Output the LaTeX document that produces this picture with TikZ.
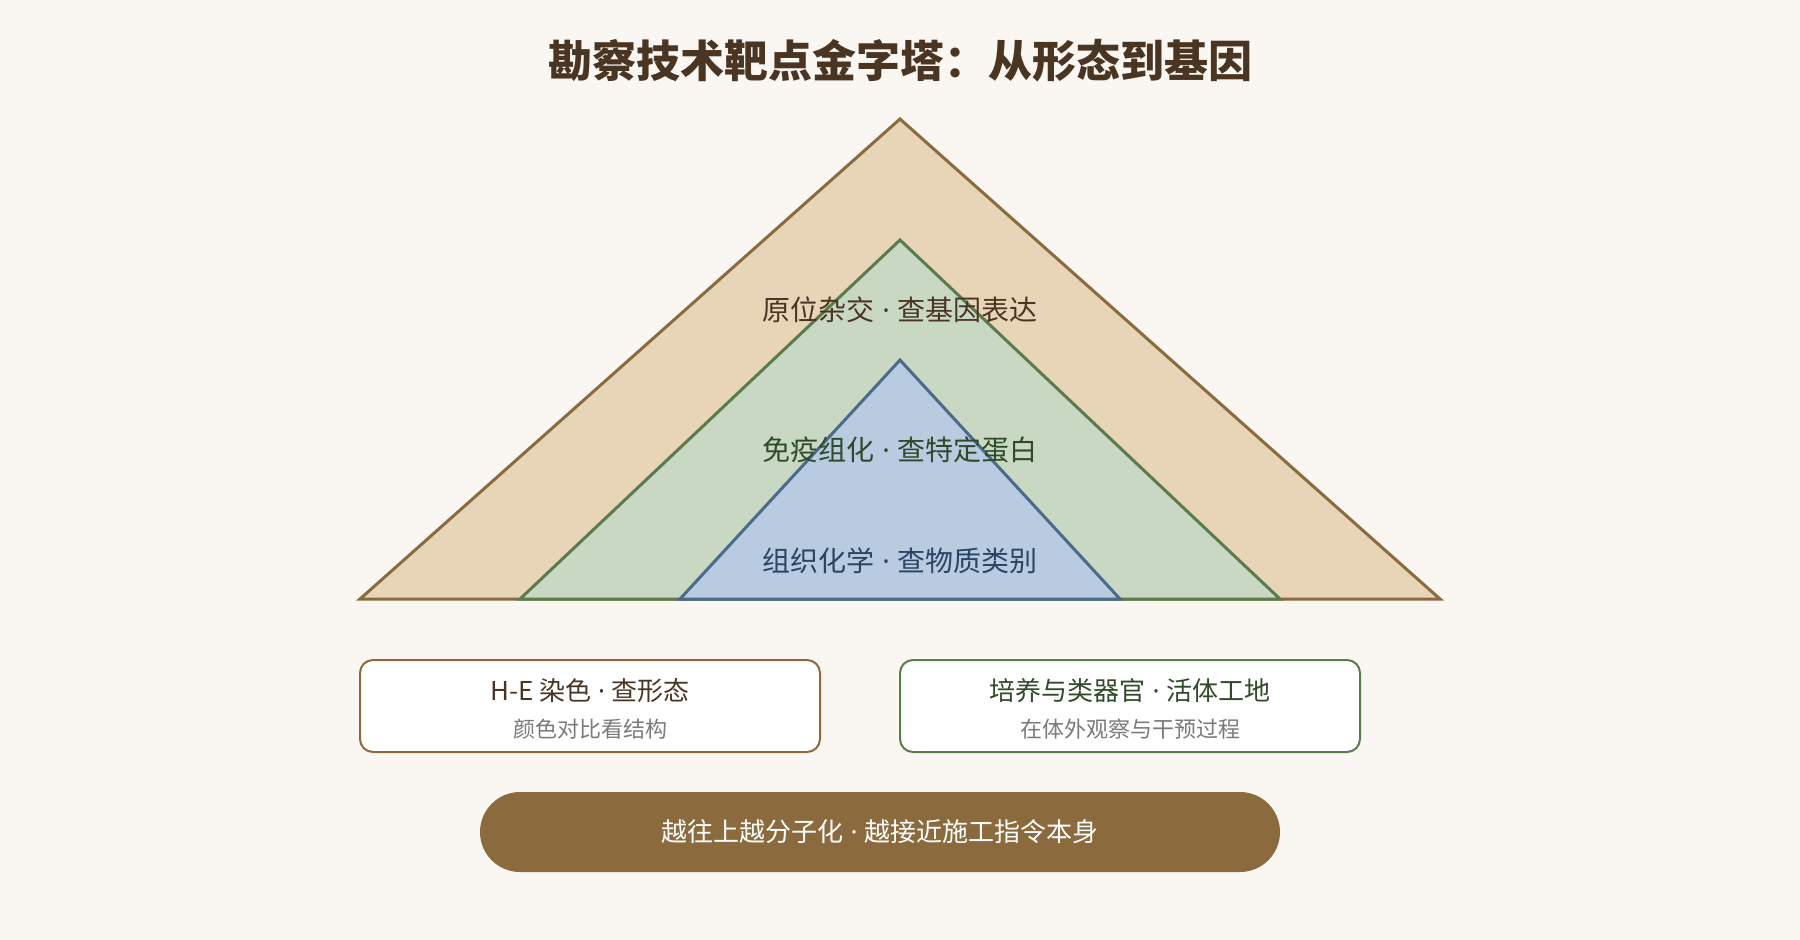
\documentclass[tikz,border=0pt]{standalone}
\usepackage{fontspec}
\setmainfont{Noto Sans CJK SC}
\newfontfamily\dotfont{Noto Sans}
\newcommand{\sepdot}{{\dotfont\ ·\ }}
\definecolor{bg}{HTML}{FAF7F2}
\definecolor{brownln}{HTML}{8B6B3E}
\definecolor{brownfill}{HTML}{E8D5B7}
\definecolor{greenln}{HTML}{5B7B4E}
\definecolor{greenfill}{HTML}{C9D8C3}
\definecolor{blueln}{HTML}{4A6B8A}
\definecolor{bluefill}{HTML}{B8CBE1}
\definecolor{titlecol}{HTML}{4A3523}
\definecolor{greentxt}{HTML}{2F4A28}
\definecolor{bluetxt}{HTML}{2A4563}
\definecolor{graytxt}{HTML}{7A7A7A}
\begin{document}
\begin{tikzpicture}[x=1pt,y=-1pt,
  titlestyle/.style={font=\fontsize{44}{50}\selectfont\bfseries, text=titlecol, inner sep=0},
  layer/.style={line width=3pt, line join=miter},
  lbl/.style={font=\fontsize{28}{32}\selectfont, inner sep=0},
  boxstyle/.style={fill=white, line width=2pt, rounded corners=13pt, minimum width=460pt, minimum height=92pt, inner sep=0},
  boxtitle/.style={font=\fontsize{26}{30}\selectfont, inner sep=0},
  boxsub/.style={font=\fontsize{22}{26}\selectfont, text=graytxt, inner sep=0},
  pill/.style={fill=brownln, rounded corners=40pt, minimum width=800pt, minimum height=80pt, inner sep=0, text=white, font=\fontsize{26}{30}\selectfont}
]
\fill[bg] (0,0) rectangle (1800,940);
\useasboundingbox (0,0) rectangle (1800,940);
\node[titlestyle] (title) at (900,61) {勘察技术靶点金字塔：从形态到基因};
\draw[layer, draw=brownln, fill=brownfill] (360,599) -- (900,119) -- (1440,599) -- cycle;
\draw[layer, draw=greenln, fill=greenfill] (520,599) -- (900,240) -- (1280,599) -- cycle;
\draw[layer, draw=blueln, fill=bluefill] (680,599) -- (900,360) -- (1120,599) -- cycle;
\node[lbl, text=titlecol] (l1) at (900,310) {原位杂交\sepdot 查基因表达};
\node[lbl, text=greentxt] (l2) at (900,450) {免疫组化\sepdot 查特定蛋白};
\node[lbl, text=bluetxt] (l3) at (900,561) {组织化学\sepdot 查物质类别};
\node[boxstyle, draw=brownln] (b1) at (590,706) {};
\node[boxtitle, text=titlecol] (b1t) at (590,691) {H-E 染色\sepdot 查形态};
\node[boxsub] (b1s) at (590,729) {颜色对比看结构};
\node[boxstyle, draw=greenln] (b2) at (1130,706) {};
\node[boxtitle, text=greentxt] (b2t) at (1130,691) {培养与类器官\sepdot 活体工地};
\node[boxsub] (b2s) at (1130,729) {在体外观察与干预过程};
\node[pill] (p) at (880,832) {越往上越分子化\sepdot 越接近施工指令本身};
\end{tikzpicture}
\end{document}
